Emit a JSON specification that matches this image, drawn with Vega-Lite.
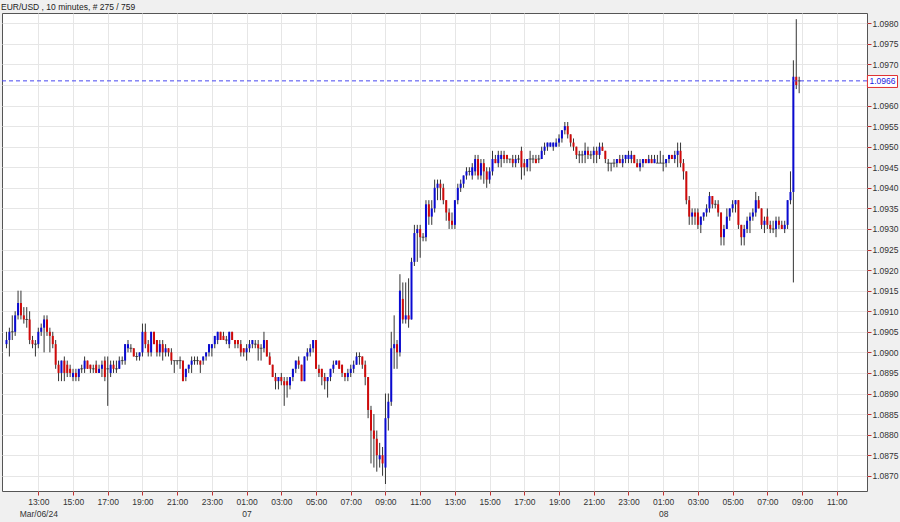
{
  "$schema": "https://vega.github.io/schema/vega-lite/v6.json",
  "width": 865,
  "height": 478,
  "autosize": {"type": "none"},
  "padding": {"left": 2, "top": 13, "right": 33, "bottom": 31},
  "background": "#f0f0f0",
  "title": {"text": "EUR/USD , 10 minutes, # 275 / 759", "anchor": "start", "frame": "group", "offset": 2, "dx": -1, "font": "Liberation Sans", "fontSize": 8.5, "fontWeight": "normal", "color": "#222"},
  "config": {
    "view": {"stroke": "#555", "strokeWidth": 1, "fill": "white"},
    "axis": {"labelFont": "Liberation Sans", "labelFontSize": 8.5, "labelColor": "#333", "gridColor": "#e6e6e6", "gridWidth": 1, "domain": false, "tickColor": "#c03030", "tickSize": 4, "labelOverlap": false, "labelFlush": false, "title": null}
  },
  "data": {"values": [
{"t":"2024-03-06T11:10:00Z","o":1.0902,"h":1.0905,"l":1.0901,"c":1.0903},
{"t":"2024-03-06T11:20:00Z","o":1.0903,"h":1.0906,"l":1.0899,"c":1.0905},
{"t":"2024-03-06T11:30:00Z","o":1.0905,"h":1.0909,"l":1.0903,"c":1.0905},
{"t":"2024-03-06T11:40:00Z","o":1.0905,"h":1.0910,"l":1.0904,"c":1.0909},
{"t":"2024-03-06T11:50:00Z","o":1.0909,"h":1.0915,"l":1.0908,"c":1.0912},
{"t":"2024-03-06T12:00:00Z","o":1.0912,"h":1.0915,"l":1.0908,"c":1.0909},
{"t":"2024-03-06T12:10:00Z","o":1.0909,"h":1.0911,"l":1.0907,"c":1.0908},
{"t":"2024-03-06T12:20:00Z","o":1.0908,"h":1.0911,"l":1.0906,"c":1.0908},
{"t":"2024-03-06T12:30:00Z","o":1.0908,"h":1.0910,"l":1.0902,"c":1.0903},
{"t":"2024-03-06T12:40:00Z","o":1.0903,"h":1.0904,"l":1.0901,"c":1.0902},
{"t":"2024-03-06T12:50:00Z","o":1.0902,"h":1.0903,"l":1.0899,"c":1.0902},
{"t":"2024-03-06T13:00:00Z","o":1.0902,"h":1.0906,"l":1.0901,"c":1.0905},
{"t":"2024-03-06T13:10:00Z","o":1.0905,"h":1.0907,"l":1.0904,"c":1.0906},
{"t":"2024-03-06T13:20:00Z","o":1.0906,"h":1.0909,"l":1.0900,"c":1.0908},
{"t":"2024-03-06T13:30:00Z","o":1.0908,"h":1.0909,"l":1.0904,"c":1.0905},
{"t":"2024-03-06T13:40:00Z","o":1.0905,"h":1.0906,"l":1.0900,"c":1.0904},
{"t":"2024-03-06T13:50:00Z","o":1.0904,"h":1.0905,"l":1.0901,"c":1.0902},
{"t":"2024-03-06T14:00:00Z","o":1.0902,"h":1.0903,"l":1.0896,"c":1.0897},
{"t":"2024-03-06T14:10:00Z","o":1.0897,"h":1.0898,"l":1.0893,"c":1.0895},
{"t":"2024-03-06T14:20:00Z","o":1.0895,"h":1.0898,"l":1.0893,"c":1.0898},
{"t":"2024-03-06T14:30:00Z","o":1.0898,"h":1.0899,"l":1.0893,"c":1.0895},
{"t":"2024-03-06T14:40:00Z","o":1.0897,"h":1.0898,"l":1.0894,"c":1.0895},
{"t":"2024-03-06T14:50:00Z","o":1.0896,"h":1.0897,"l":1.0894,"c":1.0895},
{"t":"2024-03-06T15:00:00Z","o":1.0894,"h":1.0896,"l":1.0893,"c":1.0895},
{"t":"2024-03-06T15:10:00Z","o":1.0895,"h":1.0896,"l":1.0893,"c":1.0894},
{"t":"2024-03-06T15:20:00Z","o":1.0894,"h":1.0896,"l":1.0893,"c":1.0896},
{"t":"2024-03-06T15:30:00Z","o":1.0896,"h":1.0897,"l":1.0895,"c":1.0896},
{"t":"2024-03-06T15:40:00Z","o":1.0896,"h":1.0899,"l":1.0895,"c":1.0898},
{"t":"2024-03-06T15:50:00Z","o":1.0898,"h":1.0898,"l":1.0896,"c":1.0896},
{"t":"2024-03-06T16:00:00Z","o":1.0897,"h":1.0897,"l":1.0895,"c":1.0896},
{"t":"2024-03-06T16:10:00Z","o":1.0896,"h":1.0897,"l":1.0895,"c":1.0896},
{"t":"2024-03-06T16:20:00Z","o":1.0897,"h":1.0898,"l":1.0895,"c":1.0895},
{"t":"2024-03-06T16:30:00Z","o":1.0895,"h":1.0897,"l":1.0895,"c":1.0896},
{"t":"2024-03-06T16:40:00Z","o":1.0896,"h":1.0898,"l":1.0894,"c":1.0897},
{"t":"2024-03-06T16:50:00Z","o":1.0898,"h":1.0899,"l":1.0893,"c":1.0894},
{"t":"2024-03-06T17:00:00Z","o":1.0896,"h":1.0899,"l":1.0887,"c":1.0896},
{"t":"2024-03-06T17:10:00Z","o":1.0895,"h":1.0898,"l":1.0894,"c":1.0897},
{"t":"2024-03-06T17:20:00Z","o":1.0897,"h":1.0898,"l":1.0895,"c":1.0896},
{"t":"2024-03-06T17:30:00Z","o":1.0896,"h":1.0898,"l":1.0895,"c":1.0896},
{"t":"2024-03-06T17:40:00Z","o":1.0896,"h":1.0899,"l":1.0896,"c":1.0898},
{"t":"2024-03-06T17:50:00Z","o":1.0898,"h":1.0899,"l":1.0897,"c":1.0898},
{"t":"2024-03-06T18:00:00Z","o":1.0898,"h":1.0902,"l":1.0897,"c":1.0902},
{"t":"2024-03-06T18:10:00Z","o":1.0901,"h":1.0903,"l":1.0900,"c":1.0902},
{"t":"2024-03-06T18:20:00Z","o":1.0901,"h":1.0902,"l":1.0900,"c":1.0901},
{"t":"2024-03-06T18:30:00Z","o":1.0901,"h":1.0901,"l":1.0899,"c":1.0899},
{"t":"2024-03-06T18:40:00Z","o":1.0899,"h":1.0900,"l":1.0898,"c":1.0899},
{"t":"2024-03-06T18:50:00Z","o":1.0899,"h":1.0900,"l":1.0898,"c":1.0900},
{"t":"2024-03-06T19:00:00Z","o":1.0900,"h":1.0907,"l":1.0899,"c":1.0905},
{"t":"2024-03-06T19:10:00Z","o":1.0905,"h":1.0907,"l":1.0901,"c":1.0902},
{"t":"2024-03-06T19:20:00Z","o":1.0902,"h":1.0903,"l":1.0899,"c":1.0900},
{"t":"2024-03-06T19:30:00Z","o":1.0900,"h":1.0905,"l":1.0899,"c":1.0905},
{"t":"2024-03-06T19:40:00Z","o":1.0905,"h":1.0905,"l":1.0902,"c":1.0902},
{"t":"2024-03-06T19:50:00Z","o":1.0903,"h":1.0903,"l":1.0899,"c":1.0900},
{"t":"2024-03-06T20:00:00Z","o":1.0900,"h":1.0903,"l":1.0899,"c":1.0902},
{"t":"2024-03-06T20:10:00Z","o":1.0902,"h":1.0903,"l":1.0898,"c":1.0900},
{"t":"2024-03-06T20:20:00Z","o":1.0900,"h":1.0902,"l":1.0899,"c":1.0901},
{"t":"2024-03-06T20:30:00Z","o":1.0901,"h":1.0901,"l":1.0899,"c":1.0900},
{"t":"2024-03-06T20:40:00Z","o":1.0900,"h":1.0901,"l":1.0897,"c":1.0898},
{"t":"2024-03-06T20:50:00Z","o":1.0898,"h":1.0898,"l":1.0895,"c":1.0898},
{"t":"2024-03-06T21:00:00Z","o":1.0898,"h":1.0898,"l":1.0897,"c":1.0898},
{"t":"2024-03-06T21:10:00Z","o":1.0898,"h":1.0899,"l":1.0896,"c":1.0898},
{"t":"2024-03-06T21:20:00Z","o":1.0898,"h":1.0898,"l":1.0893,"c":1.0893},
{"t":"2024-03-06T21:30:00Z","o":1.0894,"h":1.0896,"l":1.0893,"c":1.0896},
{"t":"2024-03-06T21:40:00Z","o":1.0896,"h":1.0897,"l":1.0895,"c":1.0897},
{"t":"2024-03-06T21:50:00Z","o":1.0897,"h":1.0899,"l":1.0895,"c":1.0898},
{"t":"2024-03-06T22:00:00Z","o":1.0898,"h":1.0899,"l":1.0897,"c":1.0898},
{"t":"2024-03-06T22:10:00Z","o":1.0898,"h":1.0899,"l":1.0897,"c":1.0898},
{"t":"2024-03-06T22:20:00Z","o":1.0898,"h":1.0898,"l":1.0895,"c":1.0897},
{"t":"2024-03-06T22:30:00Z","o":1.0898,"h":1.0899,"l":1.0897,"c":1.0899},
{"t":"2024-03-06T22:40:00Z","o":1.0899,"h":1.0900,"l":1.0898,"c":1.0900},
{"t":"2024-03-06T22:50:00Z","o":1.0900,"h":1.0902,"l":1.0899,"c":1.0902},
{"t":"2024-03-06T23:00:00Z","o":1.0901,"h":1.0902,"l":1.0899,"c":1.0902},
{"t":"2024-03-06T23:10:00Z","o":1.0902,"h":1.0904,"l":1.0901,"c":1.0904},
{"t":"2024-03-06T23:20:00Z","o":1.0903,"h":1.0905,"l":1.0902,"c":1.0905},
{"t":"2024-03-06T23:30:00Z","o":1.0905,"h":1.0905,"l":1.0903,"c":1.0903},
{"t":"2024-03-06T23:40:00Z","o":1.0904,"h":1.0905,"l":1.0903,"c":1.0903},
{"t":"2024-03-06T23:50:00Z","o":1.0903,"h":1.0904,"l":1.0902,"c":1.0903},
{"t":"2024-03-07T00:00:00Z","o":1.0902,"h":1.0905,"l":1.0901,"c":1.0905},
{"t":"2024-03-07T00:10:00Z","o":1.0905,"h":1.0905,"l":1.0903,"c":1.0903},
{"t":"2024-03-07T00:20:00Z","o":1.0903,"h":1.0903,"l":1.0901,"c":1.0902},
{"t":"2024-03-07T00:30:00Z","o":1.0903,"h":1.0903,"l":1.0901,"c":1.0902},
{"t":"2024-03-07T00:40:00Z","o":1.0902,"h":1.0903,"l":1.0899,"c":1.0900},
{"t":"2024-03-07T00:50:00Z","o":1.0901,"h":1.0901,"l":1.0899,"c":1.0900},
{"t":"2024-03-07T01:00:00Z","o":1.0900,"h":1.0902,"l":1.0898,"c":1.0901},
{"t":"2024-03-07T01:10:00Z","o":1.0901,"h":1.0903,"l":1.0900,"c":1.0902},
{"t":"2024-03-07T01:20:00Z","o":1.0902,"h":1.0903,"l":1.0901,"c":1.0903},
{"t":"2024-03-07T01:30:00Z","o":1.0902,"h":1.0903,"l":1.0901,"c":1.0902},
{"t":"2024-03-07T01:40:00Z","o":1.0902,"h":1.0903,"l":1.0898,"c":1.0901},
{"t":"2024-03-07T01:50:00Z","o":1.0901,"h":1.0902,"l":1.0898,"c":1.0901},
{"t":"2024-03-07T02:00:00Z","o":1.0901,"h":1.0905,"l":1.0900,"c":1.0903},
{"t":"2024-03-07T02:10:00Z","o":1.0903,"h":1.0903,"l":1.0899,"c":1.0899},
{"t":"2024-03-07T02:20:00Z","o":1.0899,"h":1.0900,"l":1.0897,"c":1.0897},
{"t":"2024-03-07T02:30:00Z","o":1.0897,"h":1.0897,"l":1.0894,"c":1.0894},
{"t":"2024-03-07T02:40:00Z","o":1.0894,"h":1.0895,"l":1.0891,"c":1.0893},
{"t":"2024-03-07T02:50:00Z","o":1.0893,"h":1.0894,"l":1.0891,"c":1.0894},
{"t":"2024-03-07T03:00:00Z","o":1.0894,"h":1.0895,"l":1.0892,"c":1.0893},
{"t":"2024-03-07T03:10:00Z","o":1.0893,"h":1.0894,"l":1.0887,"c":1.0892},
{"t":"2024-03-07T03:20:00Z","o":1.0893,"h":1.0894,"l":1.0889,"c":1.0892},
{"t":"2024-03-07T03:30:00Z","o":1.0892,"h":1.0894,"l":1.0891,"c":1.0894},
{"t":"2024-03-07T03:40:00Z","o":1.0894,"h":1.0896,"l":1.0893,"c":1.0896},
{"t":"2024-03-07T03:50:00Z","o":1.0896,"h":1.0898,"l":1.0895,"c":1.0898},
{"t":"2024-03-07T04:00:00Z","o":1.0898,"h":1.0899,"l":1.0896,"c":1.0897},
{"t":"2024-03-07T04:10:00Z","o":1.0897,"h":1.0897,"l":1.0893,"c":1.0893},
{"t":"2024-03-07T04:20:00Z","o":1.0893,"h":1.0899,"l":1.0893,"c":1.0899},
{"t":"2024-03-07T04:30:00Z","o":1.0899,"h":1.0901,"l":1.0898,"c":1.0900},
{"t":"2024-03-07T04:40:00Z","o":1.0900,"h":1.0902,"l":1.0899,"c":1.0901},
{"t":"2024-03-07T04:50:00Z","o":1.0901,"h":1.0903,"l":1.0900,"c":1.0903},
{"t":"2024-03-07T05:00:00Z","o":1.0903,"h":1.0903,"l":1.0896,"c":1.0896},
{"t":"2024-03-07T05:10:00Z","o":1.0896,"h":1.0897,"l":1.0894,"c":1.0895},
{"t":"2024-03-07T05:20:00Z","o":1.0896,"h":1.0896,"l":1.0892,"c":1.0894},
{"t":"2024-03-07T05:30:00Z","o":1.0894,"h":1.0895,"l":1.0891,"c":1.0893},
{"t":"2024-03-07T05:40:00Z","o":1.0893,"h":1.0894,"l":1.0889,"c":1.0894},
{"t":"2024-03-07T05:50:00Z","o":1.0894,"h":1.0896,"l":1.0893,"c":1.0896},
{"t":"2024-03-07T06:00:00Z","o":1.0896,"h":1.0898,"l":1.0895,"c":1.0897},
{"t":"2024-03-07T06:10:00Z","o":1.0897,"h":1.0898,"l":1.0897,"c":1.0898},
{"t":"2024-03-07T06:20:00Z","o":1.0898,"h":1.0898,"l":1.0896,"c":1.0896},
{"t":"2024-03-07T06:30:00Z","o":1.0897,"h":1.0897,"l":1.0894,"c":1.0895},
{"t":"2024-03-07T06:40:00Z","o":1.0895,"h":1.0895,"l":1.0893,"c":1.0894},
{"t":"2024-03-07T06:50:00Z","o":1.0894,"h":1.0896,"l":1.0893,"c":1.0895},
{"t":"2024-03-07T07:00:00Z","o":1.0895,"h":1.0897,"l":1.0894,"c":1.0896},
{"t":"2024-03-07T07:10:00Z","o":1.0896,"h":1.0898,"l":1.0895,"c":1.0897},
{"t":"2024-03-07T07:20:00Z","o":1.0897,"h":1.0900,"l":1.0897,"c":1.0899},
{"t":"2024-03-07T07:30:00Z","o":1.0899,"h":1.0900,"l":1.0897,"c":1.0899},
{"t":"2024-03-07T07:40:00Z","o":1.0899,"h":1.0899,"l":1.0896,"c":1.0897},
{"t":"2024-03-07T07:50:00Z","o":1.0897,"h":1.0898,"l":1.0892,"c":1.0894},
{"t":"2024-03-07T08:00:00Z","o":1.0894,"h":1.0894,"l":1.0884,"c":1.0886},
{"t":"2024-03-07T08:10:00Z","o":1.0886,"h":1.0887,"l":1.0873,"c":1.0881},
{"t":"2024-03-07T08:20:00Z","o":1.0881,"h":1.0885,"l":1.0872,"c":1.0879},
{"t":"2024-03-07T08:30:00Z","o":1.0879,"h":1.0881,"l":1.0871,"c":1.0875},
{"t":"2024-03-07T08:40:00Z","o":1.0874,"h":1.0878,"l":1.0872,"c":1.0875},
{"t":"2024-03-07T08:50:00Z","o":1.0875,"h":1.0877,"l":1.0870,"c":1.0873},
{"t":"2024-03-07T09:00:00Z","o":1.0872,"h":1.0890,"l":1.0868,"c":1.0884},
{"t":"2024-03-07T09:10:00Z","o":1.0884,"h":1.0890,"l":1.0881,"c":1.0888},
{"t":"2024-03-07T09:20:00Z","o":1.0888,"h":1.0905,"l":1.0887,"c":1.0901},
{"t":"2024-03-07T09:30:00Z","o":1.0901,"h":1.0909,"l":1.0896,"c":1.0902},
{"t":"2024-03-07T09:40:00Z","o":1.0902,"h":1.0903,"l":1.0896,"c":1.0900},
{"t":"2024-03-07T09:50:00Z","o":1.0900,"h":1.0919,"l":1.0899,"c":1.0915},
{"t":"2024-03-07T10:00:00Z","o":1.0913,"h":1.0917,"l":1.0907,"c":1.0908},
{"t":"2024-03-07T10:10:00Z","o":1.0908,"h":1.0917,"l":1.0907,"c":1.0909},
{"t":"2024-03-07T10:20:00Z","o":1.0909,"h":1.0918,"l":1.0906,"c":1.0908},
{"t":"2024-03-07T10:30:00Z","o":1.0908,"h":1.0923,"l":1.0908,"c":1.0922},
{"t":"2024-03-07T10:40:00Z","o":1.0922,"h":1.0931,"l":1.0921,"c":1.0929},
{"t":"2024-03-07T10:50:00Z","o":1.0929,"h":1.0931,"l":1.0922,"c":1.0930},
{"t":"2024-03-07T11:00:00Z","o":1.0930,"h":1.0931,"l":1.0923,"c":1.0928},
{"t":"2024-03-07T11:10:00Z","o":1.0928,"h":1.0929,"l":1.0927,"c":1.0928},
{"t":"2024-03-07T11:20:00Z","o":1.0928,"h":1.0937,"l":1.0927,"c":1.0936},
{"t":"2024-03-07T11:30:00Z","o":1.0936,"h":1.0937,"l":1.0931,"c":1.0933},
{"t":"2024-03-07T11:40:00Z","o":1.0933,"h":1.0937,"l":1.0931,"c":1.0935},
{"t":"2024-03-07T11:50:00Z","o":1.0935,"h":1.0942,"l":1.0934,"c":1.0940},
{"t":"2024-03-07T12:00:00Z","o":1.0940,"h":1.0942,"l":1.0937,"c":1.0941},
{"t":"2024-03-07T12:10:00Z","o":1.0941,"h":1.0942,"l":1.0937,"c":1.0940},
{"t":"2024-03-07T12:20:00Z","o":1.0940,"h":1.0941,"l":1.0936,"c":1.0937},
{"t":"2024-03-07T12:30:00Z","o":1.0937,"h":1.0937,"l":1.0932,"c":1.0934},
{"t":"2024-03-07T12:40:00Z","o":1.0934,"h":1.0935,"l":1.0930,"c":1.0932},
{"t":"2024-03-07T12:50:00Z","o":1.0932,"h":1.0934,"l":1.0930,"c":1.0931},
{"t":"2024-03-07T13:00:00Z","o":1.0931,"h":1.0937,"l":1.0930,"c":1.0937},
{"t":"2024-03-07T13:10:00Z","o":1.0937,"h":1.0941,"l":1.0936,"c":1.0940},
{"t":"2024-03-07T13:20:00Z","o":1.0940,"h":1.0942,"l":1.0939,"c":1.0941},
{"t":"2024-03-07T13:30:00Z","o":1.0941,"h":1.0943,"l":1.0940,"c":1.0943},
{"t":"2024-03-07T13:40:00Z","o":1.0943,"h":1.0945,"l":1.0942,"c":1.0944},
{"t":"2024-03-07T13:50:00Z","o":1.0944,"h":1.0945,"l":1.0943,"c":1.0944},
{"t":"2024-03-07T14:00:00Z","o":1.0943,"h":1.0946,"l":1.0942,"c":1.0945},
{"t":"2024-03-07T14:10:00Z","o":1.0944,"h":1.0948,"l":1.0943,"c":1.0947},
{"t":"2024-03-07T14:20:00Z","o":1.0947,"h":1.0948,"l":1.0942,"c":1.0943},
{"t":"2024-03-07T14:30:00Z","o":1.0943,"h":1.0947,"l":1.0942,"c":1.0946},
{"t":"2024-03-07T14:40:00Z","o":1.0946,"h":1.0947,"l":1.0941,"c":1.0944},
{"t":"2024-03-07T14:50:00Z","o":1.0944,"h":1.0945,"l":1.0940,"c":1.0942},
{"t":"2024-03-07T15:00:00Z","o":1.0942,"h":1.0945,"l":1.0941,"c":1.0944},
{"t":"2024-03-07T15:10:00Z","o":1.0944,"h":1.0949,"l":1.0943,"c":1.0947},
{"t":"2024-03-07T15:20:00Z","o":1.0947,"h":1.0948,"l":1.0946,"c":1.0946},
{"t":"2024-03-07T15:30:00Z","o":1.0946,"h":1.0949,"l":1.0945,"c":1.0948},
{"t":"2024-03-07T15:40:00Z","o":1.0947,"h":1.0949,"l":1.0945,"c":1.0948},
{"t":"2024-03-07T15:50:00Z","o":1.0948,"h":1.0949,"l":1.0946,"c":1.0947},
{"t":"2024-03-07T16:00:00Z","o":1.0948,"h":1.0948,"l":1.0946,"c":1.0947},
{"t":"2024-03-07T16:10:00Z","o":1.0947,"h":1.0947,"l":1.0946,"c":1.0947},
{"t":"2024-03-07T16:20:00Z","o":1.0947,"h":1.0948,"l":1.0945,"c":1.0946},
{"t":"2024-03-07T16:30:00Z","o":1.0946,"h":1.0948,"l":1.0945,"c":1.0947},
{"t":"2024-03-07T16:40:00Z","o":1.0947,"h":1.0948,"l":1.0946,"c":1.0947},
{"t":"2024-03-07T16:50:00Z","o":1.0949,"h":1.0950,"l":1.0942,"c":1.0945},
{"t":"2024-03-07T17:00:00Z","o":1.0946,"h":1.0947,"l":1.0943,"c":1.0945},
{"t":"2024-03-07T17:10:00Z","o":1.0945,"h":1.0947,"l":1.0944,"c":1.0947},
{"t":"2024-03-07T17:20:00Z","o":1.0947,"h":1.0949,"l":1.0944,"c":1.0947},
{"t":"2024-03-07T17:30:00Z","o":1.0947,"h":1.0948,"l":1.0946,"c":1.0947},
{"t":"2024-03-07T17:40:00Z","o":1.0947,"h":1.0948,"l":1.0946,"c":1.0946},
{"t":"2024-03-07T17:50:00Z","o":1.0947,"h":1.0948,"l":1.0946,"c":1.0947},
{"t":"2024-03-07T18:00:00Z","o":1.0947,"h":1.0950,"l":1.0947,"c":1.0949},
{"t":"2024-03-07T18:10:00Z","o":1.0949,"h":1.0951,"l":1.0948,"c":1.0950},
{"t":"2024-03-07T18:20:00Z","o":1.0950,"h":1.0951,"l":1.0949,"c":1.0951},
{"t":"2024-03-07T18:30:00Z","o":1.0950,"h":1.0951,"l":1.0950,"c":1.0951},
{"t":"2024-03-07T18:40:00Z","o":1.0950,"h":1.0951,"l":1.0949,"c":1.0951},
{"t":"2024-03-07T18:50:00Z","o":1.0950,"h":1.0952,"l":1.0950,"c":1.0951},
{"t":"2024-03-07T19:00:00Z","o":1.0951,"h":1.0953,"l":1.0950,"c":1.0952},
{"t":"2024-03-07T19:10:00Z","o":1.0952,"h":1.0954,"l":1.0951,"c":1.0954},
{"t":"2024-03-07T19:20:00Z","o":1.0954,"h":1.0956,"l":1.0953,"c":1.0955},
{"t":"2024-03-07T19:30:00Z","o":1.0955,"h":1.0956,"l":1.0952,"c":1.0953},
{"t":"2024-03-07T19:40:00Z","o":1.0953,"h":1.0953,"l":1.0950,"c":1.0951},
{"t":"2024-03-07T19:50:00Z","o":1.0951,"h":1.0952,"l":1.0949,"c":1.0950},
{"t":"2024-03-07T20:00:00Z","o":1.0950,"h":1.0950,"l":1.0947,"c":1.0948},
{"t":"2024-03-07T20:10:00Z","o":1.0948,"h":1.0949,"l":1.0946,"c":1.0948},
{"t":"2024-03-07T20:20:00Z","o":1.0948,"h":1.0949,"l":1.0946,"c":1.0948},
{"t":"2024-03-07T20:30:00Z","o":1.0948,"h":1.0951,"l":1.0946,"c":1.0949},
{"t":"2024-03-07T20:40:00Z","o":1.0949,"h":1.0950,"l":1.0947,"c":1.0948},
{"t":"2024-03-07T20:50:00Z","o":1.0948,"h":1.0949,"l":1.0947,"c":1.0948},
{"t":"2024-03-07T21:00:00Z","o":1.0948,"h":1.0950,"l":1.0946,"c":1.0949},
{"t":"2024-03-07T21:10:00Z","o":1.0949,"h":1.0950,"l":1.0946,"c":1.0948},
{"t":"2024-03-07T21:20:00Z","o":1.0948,"h":1.0951,"l":1.0947,"c":1.0950},
{"t":"2024-03-07T21:30:00Z","o":1.0950,"h":1.0951,"l":1.0949,"c":1.0949},
{"t":"2024-03-07T21:40:00Z","o":1.0949,"h":1.0949,"l":1.0946,"c":1.0947},
{"t":"2024-03-07T21:50:00Z","o":1.0946,"h":1.0947,"l":1.0944,"c":1.0946},
{"t":"2024-03-07T22:00:00Z","o":1.0946,"h":1.0946,"l":1.0944,"c":1.0946},
{"t":"2024-03-07T22:10:00Z","o":1.0946,"h":1.0947,"l":1.0945,"c":1.0946},
{"t":"2024-03-07T22:20:00Z","o":1.0946,"h":1.0947,"l":1.0945,"c":1.0947},
{"t":"2024-03-07T22:30:00Z","o":1.0947,"h":1.0948,"l":1.0946,"c":1.0946},
{"t":"2024-03-07T22:40:00Z","o":1.0946,"h":1.0948,"l":1.0945,"c":1.0947},
{"t":"2024-03-07T22:50:00Z","o":1.0947,"h":1.0948,"l":1.0946,"c":1.0948},
{"t":"2024-03-07T23:00:00Z","o":1.0947,"h":1.0949,"l":1.0946,"c":1.0948},
{"t":"2024-03-07T23:10:00Z","o":1.0947,"h":1.0949,"l":1.0946,"c":1.0948},
{"t":"2024-03-07T23:20:00Z","o":1.0948,"h":1.0948,"l":1.0946,"c":1.0946},
{"t":"2024-03-07T23:30:00Z","o":1.0946,"h":1.0947,"l":1.0945,"c":1.0945},
{"t":"2024-03-07T23:40:00Z","o":1.0945,"h":1.0947,"l":1.0944,"c":1.0946},
{"t":"2024-03-07T23:50:00Z","o":1.0946,"h":1.0947,"l":1.0945,"c":1.0947},
{"t":"2024-03-08T00:00:00Z","o":1.0947,"h":1.0947,"l":1.0946,"c":1.0946},
{"t":"2024-03-08T00:10:00Z","o":1.0946,"h":1.0948,"l":1.0946,"c":1.0947},
{"t":"2024-03-08T00:20:00Z","o":1.0947,"h":1.0948,"l":1.0946,"c":1.0946},
{"t":"2024-03-08T00:30:00Z","o":1.0946,"h":1.0948,"l":1.0946,"c":1.0947},
{"t":"2024-03-08T00:40:00Z","o":1.0946,"h":1.0948,"l":1.0946,"c":1.0946},
{"t":"2024-03-08T00:50:00Z","o":1.0946,"h":1.0949,"l":1.0946,"c":1.0946},
{"t":"2024-03-08T01:00:00Z","o":1.0946,"h":1.0948,"l":1.0944,"c":1.0946},
{"t":"2024-03-08T01:10:00Z","o":1.0946,"h":1.0947,"l":1.0945,"c":1.0947},
{"t":"2024-03-08T01:20:00Z","o":1.0947,"h":1.0948,"l":1.0946,"c":1.0948},
{"t":"2024-03-08T01:30:00Z","o":1.0948,"h":1.0948,"l":1.0947,"c":1.0947},
{"t":"2024-03-08T01:40:00Z","o":1.0947,"h":1.0949,"l":1.0946,"c":1.0948},
{"t":"2024-03-08T01:50:00Z","o":1.0948,"h":1.0951,"l":1.0945,"c":1.0949},
{"t":"2024-03-08T02:00:00Z","o":1.0949,"h":1.0951,"l":1.0945,"c":1.0946},
{"t":"2024-03-08T02:10:00Z","o":1.0946,"h":1.0947,"l":1.0942,"c":1.0944},
{"t":"2024-03-08T02:20:00Z","o":1.0944,"h":1.0944,"l":1.0936,"c":1.0937},
{"t":"2024-03-08T02:30:00Z","o":1.0937,"h":1.0938,"l":1.0931,"c":1.0933},
{"t":"2024-03-08T02:40:00Z","o":1.0933,"h":1.0935,"l":1.0931,"c":1.0934},
{"t":"2024-03-08T02:50:00Z","o":1.0934,"h":1.0935,"l":1.0931,"c":1.0933},
{"t":"2024-03-08T03:00:00Z","o":1.0934,"h":1.0935,"l":1.0930,"c":1.0931},
{"t":"2024-03-08T03:10:00Z","o":1.0931,"h":1.0933,"l":1.0929,"c":1.0933},
{"t":"2024-03-08T03:20:00Z","o":1.0933,"h":1.0934,"l":1.0932,"c":1.0934},
{"t":"2024-03-08T03:30:00Z","o":1.0934,"h":1.0936,"l":1.0933,"c":1.0935},
{"t":"2024-03-08T03:40:00Z","o":1.0935,"h":1.0939,"l":1.0934,"c":1.0938},
{"t":"2024-03-08T03:50:00Z","o":1.0938,"h":1.0938,"l":1.0935,"c":1.0936},
{"t":"2024-03-08T04:00:00Z","o":1.0936,"h":1.0937,"l":1.0935,"c":1.0936},
{"t":"2024-03-08T04:10:00Z","o":1.0936,"h":1.0937,"l":1.0933,"c":1.0934},
{"t":"2024-03-08T04:20:00Z","o":1.0934,"h":1.0934,"l":1.0926,"c":1.0928},
{"t":"2024-03-08T04:30:00Z","o":1.0928,"h":1.0931,"l":1.0926,"c":1.0930},
{"t":"2024-03-08T04:40:00Z","o":1.0930,"h":1.0935,"l":1.0930,"c":1.0933},
{"t":"2024-03-08T04:50:00Z","o":1.0933,"h":1.0935,"l":1.0932,"c":1.0935},
{"t":"2024-03-08T05:00:00Z","o":1.0935,"h":1.0937,"l":1.0934,"c":1.0936},
{"t":"2024-03-08T05:10:00Z","o":1.0936,"h":1.0937,"l":1.0934,"c":1.0937},
{"t":"2024-03-08T05:20:00Z","o":1.0937,"h":1.0937,"l":1.0930,"c":1.0931},
{"t":"2024-03-08T05:30:00Z","o":1.0931,"h":1.0931,"l":1.0926,"c":1.0928},
{"t":"2024-03-08T05:40:00Z","o":1.0928,"h":1.0931,"l":1.0926,"c":1.0930},
{"t":"2024-03-08T05:50:00Z","o":1.0930,"h":1.0933,"l":1.0929,"c":1.0932},
{"t":"2024-03-08T06:00:00Z","o":1.0932,"h":1.0934,"l":1.0929,"c":1.0933},
{"t":"2024-03-08T06:10:00Z","o":1.0933,"h":1.0935,"l":1.0932,"c":1.0934},
{"t":"2024-03-08T06:20:00Z","o":1.0934,"h":1.0939,"l":1.0933,"c":1.0937},
{"t":"2024-03-08T06:30:00Z","o":1.0937,"h":1.0938,"l":1.0935,"c":1.0935},
{"t":"2024-03-08T06:40:00Z","o":1.0935,"h":1.0935,"l":1.0930,"c":1.0931},
{"t":"2024-03-08T06:50:00Z","o":1.0931,"h":1.0933,"l":1.0929,"c":1.0932},
{"t":"2024-03-08T07:00:00Z","o":1.0933,"h":1.0935,"l":1.0930,"c":1.0931},
{"t":"2024-03-08T07:10:00Z","o":1.0931,"h":1.0932,"l":1.0929,"c":1.0930},
{"t":"2024-03-08T07:20:00Z","o":1.0930,"h":1.0932,"l":1.0929,"c":1.0930},
{"t":"2024-03-08T07:30:00Z","o":1.0930,"h":1.0933,"l":1.0928,"c":1.0932},
{"t":"2024-03-08T07:40:00Z","o":1.0932,"h":1.0933,"l":1.0930,"c":1.0931},
{"t":"2024-03-08T07:50:00Z","o":1.0931,"h":1.0932,"l":1.0930,"c":1.0930},
{"t":"2024-03-08T08:00:00Z","o":1.0930,"h":1.0932,"l":1.0929,"c":1.0931},
{"t":"2024-03-08T08:10:00Z","o":1.0931,"h":1.0937,"l":1.0930,"c":1.0937},
{"t":"2024-03-08T08:20:00Z","o":1.0937,"h":1.0944,"l":1.0936,"c":1.0939},
{"t":"2024-03-08T08:30:00Z","o":1.0939,"h":1.0971,"l":1.0917,"c":1.0967},
{"t":"2024-03-08T08:40:00Z","o":1.0967,"h":1.0981,"l":1.0964,"c":1.0965},
{"t":"2024-03-08T08:50:00Z","o":1.0966,"h":1.0967,"l":1.0963,"c":1.0966}
  ]},
  "layer": [
    {
      "mark": {"type": "rule", "color": "#333333", "strokeWidth": 1},
      "encoding": {
        "x": {
          "field": "t", "type": "temporal",
          "scale": {"type": "utc", "nice": false, "padding": 0, "domain": [
            {"year": 2024, "month": 3, "date": 6, "hours": 10, "minutes": 54, "seconds": 30, "utc": true},
            {"year": 2024, "month": 3, "date": 8, "hours": 12, "minutes": 44, "seconds": 30, "utc": true}
          ]},
          "axis": {
            "tickCount": 200,
            "values": [
              {"year": 2024, "month": 3, "date": 6, "hours": 13, "utc": true},
              {"year": 2024, "month": 3, "date": 6, "hours": 15, "utc": true},
              {"year": 2024, "month": 3, "date": 6, "hours": 17, "utc": true},
              {"year": 2024, "month": 3, "date": 6, "hours": 19, "utc": true},
              {"year": 2024, "month": 3, "date": 6, "hours": 21, "utc": true},
              {"year": 2024, "month": 3, "date": 6, "hours": 23, "utc": true},
              {"year": 2024, "month": 3, "date": 7, "hours": 1, "utc": true},
              {"year": 2024, "month": 3, "date": 7, "hours": 3, "utc": true},
              {"year": 2024, "month": 3, "date": 7, "hours": 5, "utc": true},
              {"year": 2024, "month": 3, "date": 7, "hours": 7, "utc": true},
              {"year": 2024, "month": 3, "date": 7, "hours": 9, "utc": true},
              {"year": 2024, "month": 3, "date": 7, "hours": 11, "utc": true},
              {"year": 2024, "month": 3, "date": 7, "hours": 13, "utc": true},
              {"year": 2024, "month": 3, "date": 7, "hours": 15, "utc": true},
              {"year": 2024, "month": 3, "date": 7, "hours": 17, "utc": true},
              {"year": 2024, "month": 3, "date": 7, "hours": 19, "utc": true},
              {"year": 2024, "month": 3, "date": 7, "hours": 21, "utc": true},
              {"year": 2024, "month": 3, "date": 7, "hours": 23, "utc": true},
              {"year": 2024, "month": 3, "date": 8, "hours": 1, "utc": true},
              {"year": 2024, "month": 3, "date": 8, "hours": 3, "utc": true},
              {"year": 2024, "month": 3, "date": 8, "hours": 5, "utc": true},
              {"year": 2024, "month": 3, "date": 8, "hours": 7, "utc": true},
              {"year": 2024, "month": 3, "date": 8, "hours": 9, "utc": true},
              {"year": 2024, "month": 3, "date": 8, "hours": 11, "utc": true}
            ],
            "labelExpr": "utcFormat(datum.value, '%d%H') == '0613' ? ['13:00', 'Mar/06/24'] : (utchours(datum.value) == 1 ? [utcFormat(datum.value, '%H:%M'), utcFormat(datum.value, '%d')] : utcFormat(datum.value, '%H:%M'))",
            "labelOverlap": false,
            "labelPadding": 2,
            "labelLineHeight": 12,
            "labelBaseline": "top"
          }
        },
        "y": {
          "field": "l", "type": "quantitative",
          "scale": {"domain": [1.08663, 1.09825], "zero": false, "nice": false},
          "axis": {
            "orient": "right",
            "tickCount": 200,
            "labelOverlap": false,
            "values": [1.087, 1.0875, 1.088, 1.0885, 1.089, 1.0895, 1.09, 1.0905, 1.091, 1.0915, 1.092, 1.0925, 1.093, 1.0935, 1.094, 1.0945, 1.095, 1.0955, 1.096, 1.0965, 1.097, 1.0975, 1.098],
            "labelExpr": "(datum.value > 1.09649 && datum.value < 1.09651) ? '' : format(datum.value, '.4f')",
            "labelPadding": 1
          }
        },
        "y2": {"field": "h"}
      }
    },
    {
      "mark": {"type": "bar", "width": 2},
      "encoding": {
        "x": {"field": "t", "type": "temporal"},
        "y": {"field": "o", "type": "quantitative"},
        "y2": {"field": "c"},
        "color": {"condition": {"test": "datum.c > datum.o", "value": "#0a0ad2"}, "value": "#d00a0a"}
      }
    },
    {
      "transform": [{"filter": "datum.c == datum.o"}],
      "mark": {"type": "tick", "orient": "horizontal", "size": 3, "thickness": 1, "color": "#222222"},
      "encoding": {
        "x": {"field": "t", "type": "temporal"},
        "y": {"field": "c", "type": "quantitative"}
      }
    },
    {
      "data": {"values": [{}]},
      "mark": {"type": "rule", "color": "#4646f0", "strokeDash": [4, 3], "strokeWidth": 1},
      "encoding": {"y": {"datum": 1.0966}}
    },
    {
      "data": {"values": [{}]},
      "mark": {"type": "rect", "fill": "white", "stroke": "#e03030", "strokeWidth": 1},
      "encoding": {
        "x": {"datum": {"year": 2024, "month": 3, "date": 8, "hours": 12, "minutes": 46, "utc": true}, "type": "temporal"},
        "x2": {"datum": {"year": 2024, "month": 3, "date": 8, "hours": 14, "minutes": 30, "utc": true}},
        "y": {"datum": 1.09644},
        "y2": {"datum": 1.09673}
      }
    },
    {
      "data": {"values": [{}]},
      "mark": {"type": "text", "font": "Liberation Sans", "fontSize": 8.5, "color": "#2020e0", "align": "center", "baseline": "middle"},
      "encoding": {
        "x": {"datum": {"year": 2024, "month": 3, "date": 8, "hours": 13, "minutes": 38, "utc": true}, "type": "temporal"},
        "y": {"datum": 1.0966},
        "text": {"value": "1.0966"}
      }
    }
  ]
}
